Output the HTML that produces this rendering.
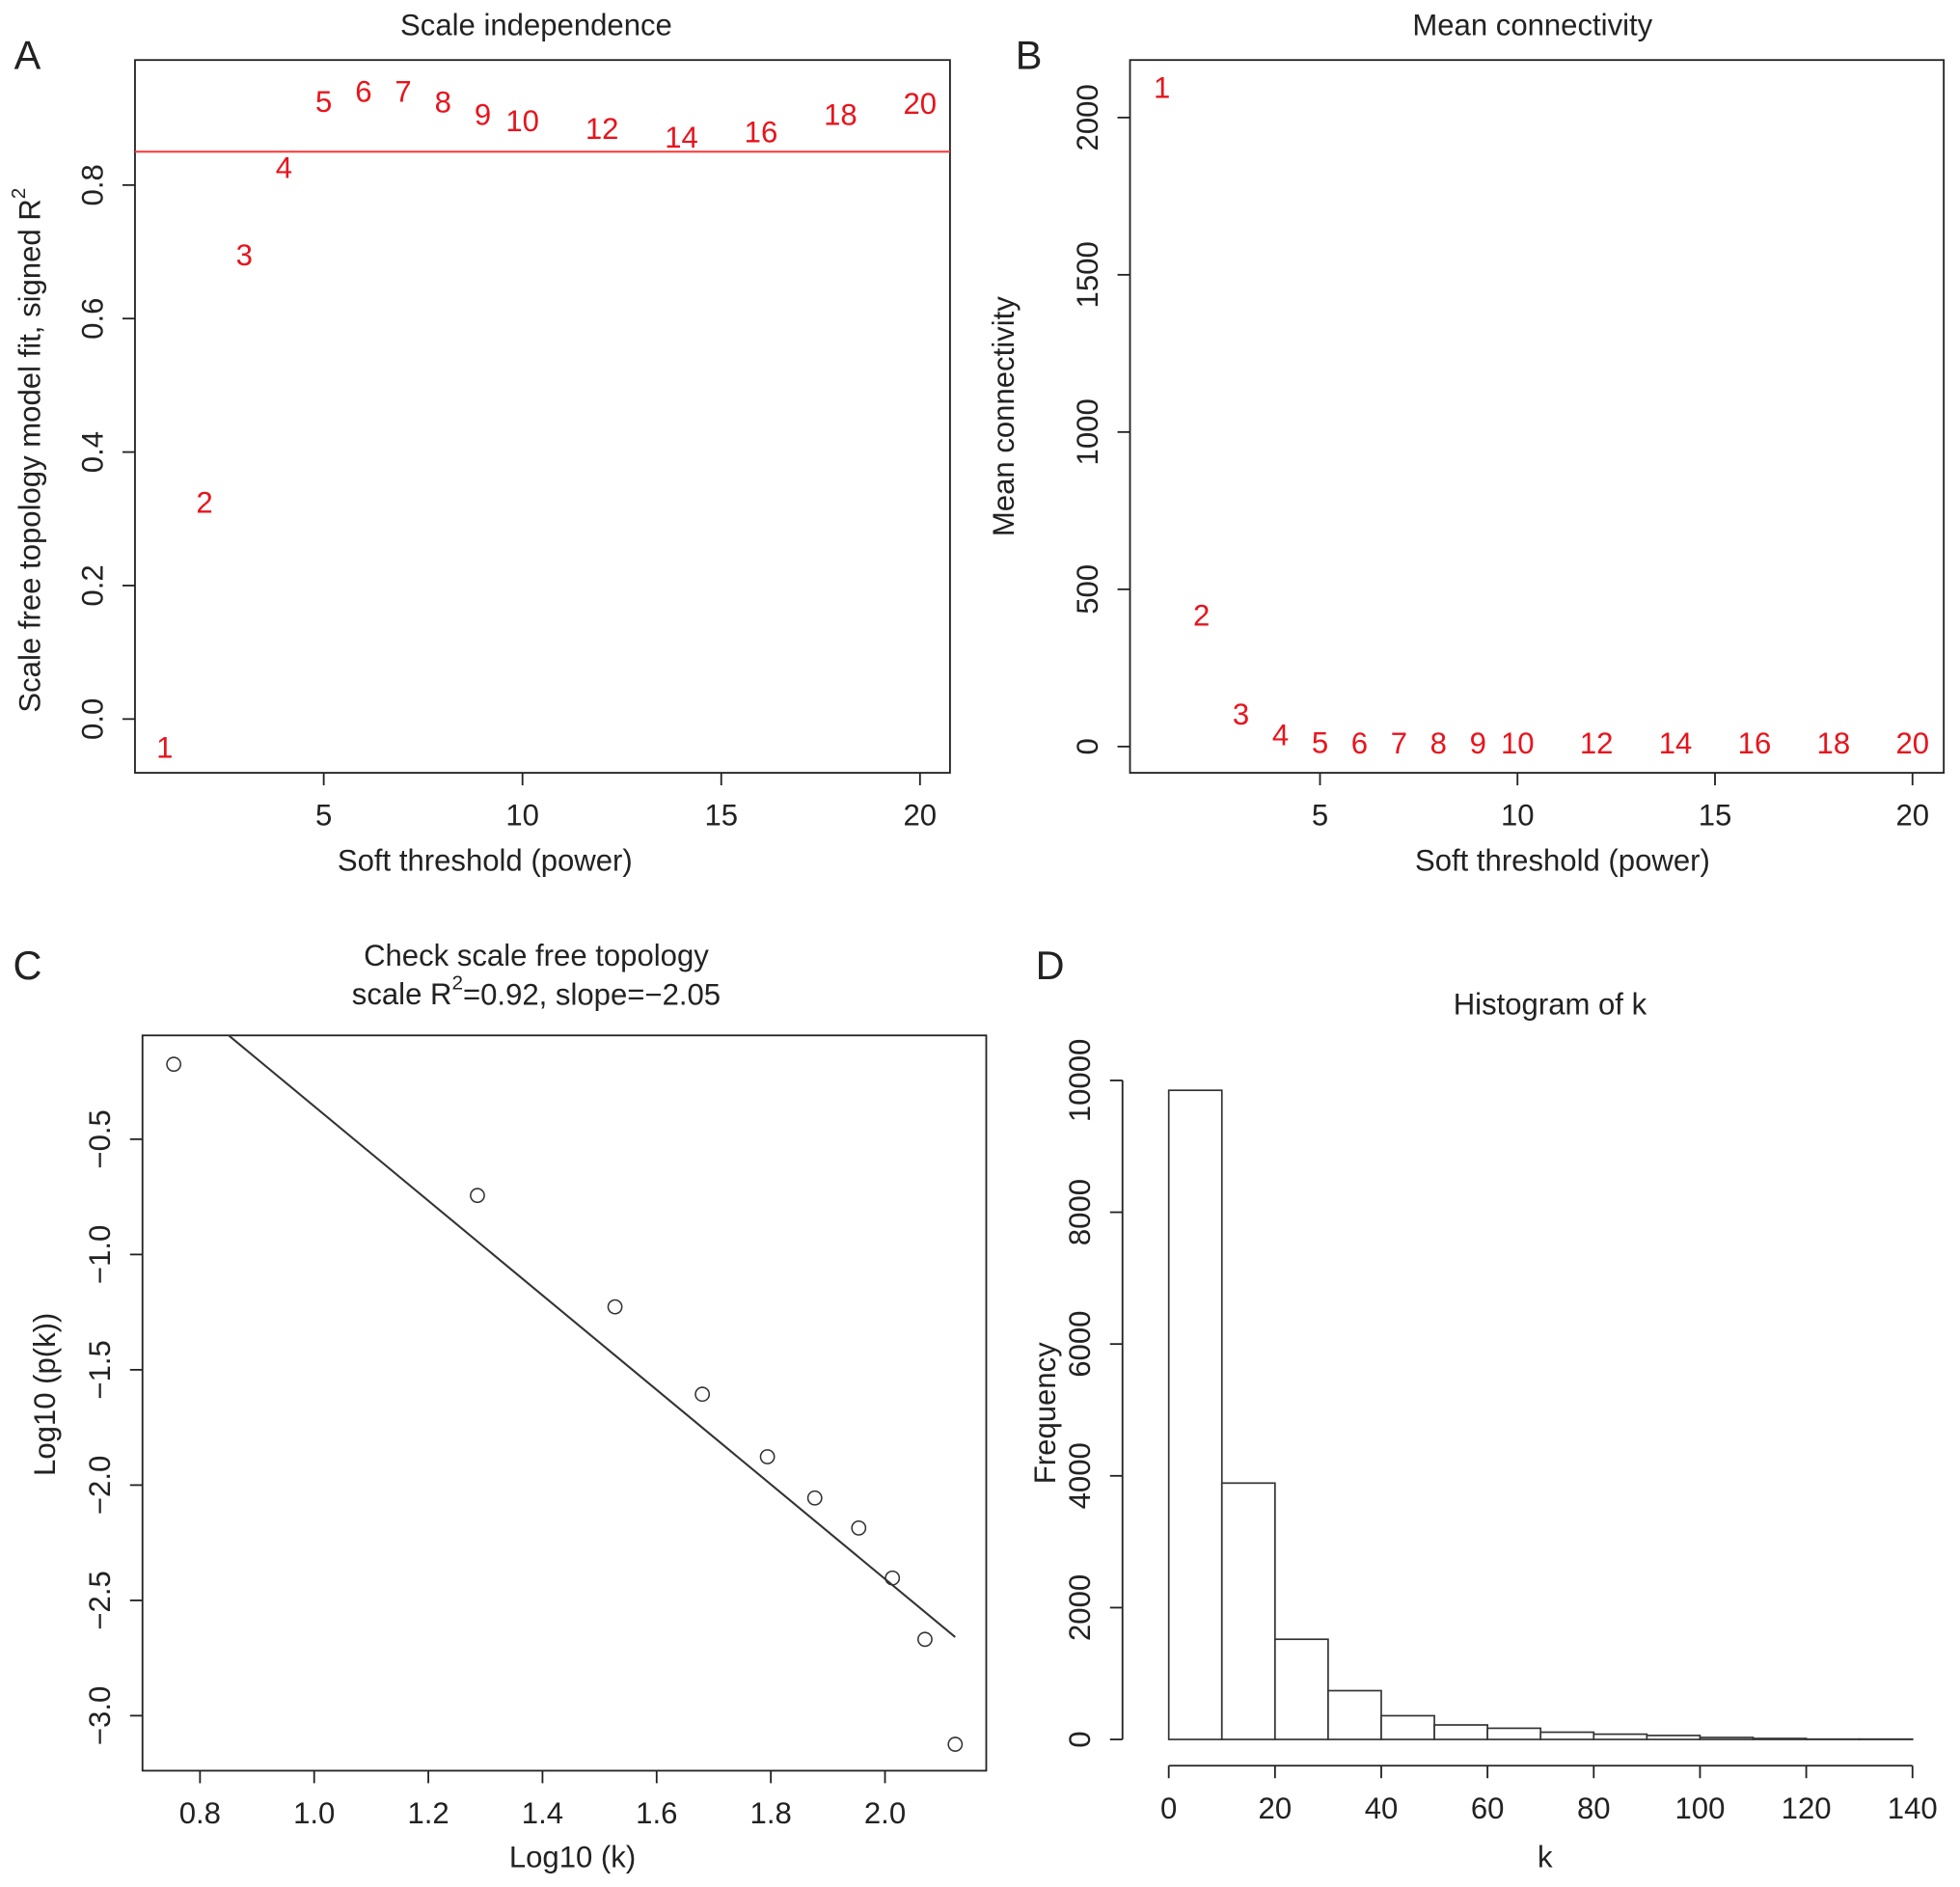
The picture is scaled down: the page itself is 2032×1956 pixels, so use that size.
<!DOCTYPE html>
<html><head><meta charset="utf-8"><style>
html,body{margin:0;padding:0;background:#fff}
svg{display:block;font-family:"Liberation Sans",Arial,sans-serif}
</style></head><body>
<svg id="fig" width="2032" height="1956" viewBox="0 0 1568 1509" preserveAspectRatio="none" xmlns="http://www.w3.org/2000/svg">
<rect width="1568" height="1509" fill="#fff"/>
<g id="gA"></g>
<g id="gB"></g>
<g id="gC"></g>
<g id="gD"></g>
</svg>
<script>
const powers = [1,2,3,4,5,6,7,8,9,10,12,14,16,18,20];
const r2Values = [-0.043,0.324,0.695,0.826,0.925,0.94,0.94,0.924,0.905,0.896,0.884,0.871,0.879,0.905,0.922];
const r2Cutoff = 0.85;
const meanK = [2095,417,103,36,12,10,10,10,10,10,10,10,10,10,10];
const logK = [0.754,1.286,1.527,1.680,1.794,1.877,1.954,2.013,2.070,2.123];
const logPk = [-0.175,-0.744,-1.227,-1.606,-1.877,-2.056,-2.186,-2.403,-2.669,-3.124];
const fitSlope = -2.05;
const fitIntercept = 1.693;
const histBreaks = [0,10,20,30,40,50,60,70,80,90,100,110,120,130,140];
const histCounts = [9850,3890,1520,740,360,220,170,110,80,60,30,15,5,5];
const ticksAx = [5,10,15,20];
const ticksAy = [0,0.2,0.4,0.6,0.8];
const ticksBy = [0,500,1000,1500,2000];
const ticksCx = [0.8,1.0,1.2,1.4,1.6,1.8,2.0];
const ticksCy = [-0.5,-1.0,-1.5,-2.0,-2.5,-3.0];
const ticksDx = [0,20,40,60,80,100,120,140];
const ticksDy = [0,2000,4000,6000,8000,10000];

const NS="http://www.w3.org/2000/svg";
function el(parent,tag,attrs,text){const e=document.createElementNS(NS,tag);for(const k in attrs)e.setAttribute(k,attrs[k]);if(text!==undefined)e.textContent=text;parent.appendChild(e);return e;}
function lin(d0,d1,r0,r1){return v=>r0+(v-d0)*(r1-r0)/(d1-d0);}
const FS=24, INK="#222";

function frame(g,x0,y0,x1,y1,name){
  const r=el(g,'rect',{x:x0,y:y0,width:x1-x0,height:y1-y0,fill:'none',stroke:INK,'stroke-width':1.4});
  
  
}
function text(g,x,y,s,name,opts){
  opts=opts||{};
  const t=el(g,'text',{x:x,y:y,'font-size':opts.fs||FS,'text-anchor':'middle','dominant-baseline':'central',fill:opts.fill||INK},s);
  if(opts.rot) t.setAttribute('transform','rotate(-90 '+x+' '+y+')');
  
  
  return t;
}
function xTicks(g,sx,ticks,yAxis,fmt,name){
  ticks.forEach(v=>{
    const x=sx(v);
    const l=el(g,'line',{x1:x,x2:x,y1:yAxis,y2:yAxis+10,stroke:INK,'stroke-width':1.4});
    
    
    text(g,x,yAxis+34,fmt(v),name+'-label');
  });
}
function yTicks(g,sy,ticks,xAxis,fmt,name){
  ticks.forEach(v=>{
    const y=sy(v);
    const l=el(g,'line',{x1:xAxis-10,x2:xAxis,y1:y,y2:y,stroke:INK,'stroke-width':1.4});
    
    
    text(g,xAxis-34,y,fmt(v),name+'-label',{rot:true});
  });
}

// Panel A
(function(){
  const g=document.getElementById('gA');
  const sx=lin(5,20,259,736), sy=lin(0,0.8,575,148);
  frame(g,108,48,760,618,'plot-frame');
  xTicks(g,sx,ticksAx,618,v=>String(v),'x-tick');
  yTicks(g,sy,ticksAy,108,v=>v.toFixed(1),'y-tick');
  const ln=el(g,'line',{x1:108,x2:760,y1:sy(r2Cutoff),y2:sy(r2Cutoff),stroke:'#f33','stroke-width':1.6});
  
  
  powers.forEach((p,i)=>{text(g,sx(p),sy(r2Values[i]),String(p),'r2-point-label',{fill:'#e8141c'});});
  text(g,429,20,'Scale independence','chart-title');
  text(g,388,688,'Soft threshold (power)','x-axis-title');
  const yt=text(g,24,360,'','y-axis-title',{rot:true});
  yt.textContent='Scale free topology model fit, signed R';
  el(yt,'tspan',{'baseline-shift':'super','font-size':16},'2');
  text(g,22,44,'A','panel-label',{fs:32});
})();

// Panel B
(function(){
  const g=document.getElementById('gB');
  const sx=lin(5,20,1056,1530), sy=lin(0,2000,597,94);
  frame(g,904,48,1555,618,'plot-frame');
  xTicks(g,sx,ticksAx,618,v=>String(v),'x-tick');
  yTicks(g,sy,ticksBy,904,v=>String(v),'y-tick');
  powers.forEach((p,i)=>{text(g,sx(p),sy(meanK[i]),String(p),'connectivity-point-label',{fill:'#e8141c'});});
  text(g,1226,20,'Mean connectivity','chart-title');
  text(g,1250,688,'Soft threshold (power)','x-axis-title');
  text(g,803,333,'Mean connectivity','y-axis-title',{rot:true});
  text(g,823,44,'B','panel-label',{fs:32});
})();

// Panel C
(function(){
  const g=document.getElementById('gC');
  const sx=lin(0.8,2.0,160,708), sy=lin(-0.5,-3.0,911,1372);
  frame(g,114,828,789,1416,'plot-frame');
  xTicks(g,sx,ticksCx,1416,v=>v.toFixed(1),'x-tick');
  yTicks(g,sy,ticksCy,114,v=>v.toFixed(1).replace('-','\u2212'),'y-tick');
  const cp=el(g,'clipPath',{id:'clipC'});el(cp,'rect',{x:114,y:828,width:675,height:588});
  const xa=Math.min(...logK), xb=Math.max(...logK);
  const fl=el(g,'line',{x1:sx(xa),y1:sy(fitIntercept+fitSlope*xa),x2:sx(xb),y2:sy(fitIntercept+fitSlope*xb),stroke:'#333','stroke-width':1.6,'clip-path':'url(#clipC)'});
  
  
  logK.forEach((k,i)=>{
    const c=el(g,'circle',{cx:sx(k),cy:sy(logPk[i]),r:5.5,fill:'none',stroke:'#333','stroke-width':1.2});
    
    
  });
  text(g,429,764,'Check scale free topology','chart-title');
  const t2=text(g,429,795,'','chart-subtitle');
  t2.textContent='scale R';
  el(t2,'tspan',{'baseline-shift':'super','font-size':16},'2');
  el(t2,'tspan',{},'=0.92, slope=\u22122.05');
  text(g,458,1485,'Log10 (k)','x-axis-title');
  text(g,36,1115,'Log10 (p(k))','y-axis-title',{rot:true});
  text(g,22,772,'C','panel-label',{fs:32});
})();

// Panel D
(function(){
  const g=document.getElementById('gD');
  const sx=lin(0,140,935,1530), sy=lin(0,10000,1391,864);
  histCounts.forEach((c,i)=>{
    const x0=sx(histBreaks[i]), x1=sx(histBreaks[i+1]);
    const r=el(g,'rect',{x:x0,y:sy(c),width:x1-x0,height:sy(0)-sy(c),fill:'#fff',stroke:'#333','stroke-width':1.3});
    
    
  });
  const xl=el(g,'line',{x1:sx(0),x2:sx(140),y1:1412,y2:1412,stroke:INK,'stroke-width':1.4});
  
  
  xTicks(g,sx,ticksDx,1412,v=>String(v),'x-tick');
  const yl=el(g,'line',{x1:898,x2:898,y1:sy(0),y2:sy(10000),stroke:INK,'stroke-width':1.4});
  
  
  yTicks(g,sy,ticksDy,898,v=>String(v),'y-tick');
  text(g,1240,803,'Histogram of k','chart-title');
  text(g,1236,1485,'k','x-axis-title');
  text(g,836,1130,'Frequency','y-axis-title',{rot:true});
  text(g,840,772,'D','panel-label',{fs:32});
})();
</script>
</body></html>
